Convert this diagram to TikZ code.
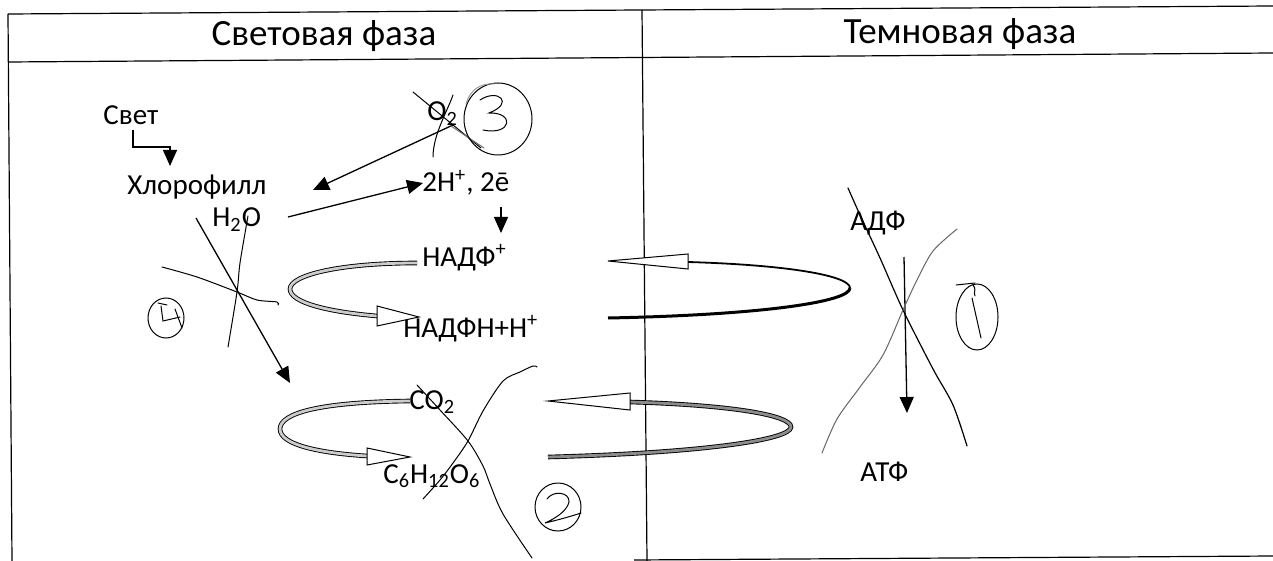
\documentclass[tikz,border=0pt]{standalone}
\usepackage{fontspec}
\setmainfont{Carlito}
\usetikzlibrary{arrows.meta}
\begin{document}
\begin{tikzpicture}[x=0.5pt,y=-0.5pt,
  lbl/.style={anchor=base west, inner sep=0pt, font=\fontsize{14.5}{16}\selectfont},
  ttl/.style={anchor=center, inner sep=0pt, font=\fontsize{18.5}{22}\selectfont},
  frame/.style={line width=0.6pt},
  arr/.style={line width=0.65pt, -{Triangle[length=8pt,width=7pt]}},
  hand/.style={line width=0.5pt, line cap=round},
  dshaft/.style={double=black!20, double distance=1.4pt, line width=0.45pt},
  ohead/.style={fill=white, line width=0.5pt, line join=miter}]
\useasboundingbox (0,0) rectangle (1273,561);
\fill[white] (0,0) rectangle (1273,561);
% frame
\coordinate (tl) at (8,14); \coordinate (tr) at (1273,6);
\coordinate (hl) at (8,62); \coordinate (hr) at (1273,53);
\coordinate (bl) at (12,561);
\coordinate (dt) at (642,10); \coordinate (db) at (647,561);
\coordinate (bm) at (634,560); \coordinate (br) at (1273,556);
\draw[frame] (tl) -- (tr);
\draw[frame] (hl) -- (hr);
\draw[frame] (tl) -- (bl);
\draw[frame] (dt) -- (db);
\draw[frame] (bm) -- (br);
% titles
\node[ttl] (t1) at (324,36) {Световая фаза};
\node[ttl] (t2) at (960,34) {Темновая фаза};
% labels
\node[lbl] (svet) at (103,125) {Свет};
\node[lbl] (chl) at (127,195) {Хлорофилл};
\node[lbl] (h2o) at (212,227) {H\textsubscript{2}O};
\node[lbl] (hpe) at (422,192) {2H\textsuperscript{+}, 2ē};
\node[lbl] (o2) at (427,121) {O\textsubscript{2}};
\node[lbl] (nadp) at (422,266) {НАДФ\textsuperscript{+}};
\node[lbl] (nadph) at (403,337) {НАДФН+Н\textsuperscript{+}};
\node[lbl] (co2) at (409,409) {CO\textsubscript{2}};
\node[lbl] (glc) at (383,483) {C\textsubscript{6}H\textsubscript{12}O\textsubscript{6}};
\node[lbl] (adp) at (850,231) {АДФ};
\node[lbl] (atp) at (860,481) {АТФ};
% black arrows
\coordinate (e1) at (133,130); \coordinate (e2) at (133,147);
\coordinate (e3) at (170,147); \coordinate (e4) at (170,166);
\draw[arr] (e1) -- (e2) -- (e3) -- (e4);
\coordinate (a1) at (288,217); \coordinate (a2) at (423,183);
\draw[arr] (a1) -- (a2);
\coordinate (b1) at (453,125); \coordinate (b2) at (313,190);
\draw[arr] (b1) -- (b2);
\coordinate (c1) at (501,207); \coordinate (c2) at (501,233);
\draw[arr] (c1) -- (c2);
\coordinate (d1) at (196,218); \coordinate (d2) at (290,383);
\draw[arr] (d1) -- (d2);
\coordinate (f1) at (904,257); \coordinate (f2) at (907,413);
\draw[arr] (f1) -- (f2);
% loop 1 (light phase, NADP)
\coordinate (L1s) at (417,263); \coordinate (L1m) at (290,289); \coordinate (L1e) at (377,316);
\draw[dshaft] (L1s) .. controls (340,263) and (290,275) .. (L1m) .. controls (290,303) and (330,312) .. (L1e);
\draw[ohead] (377,306) -- (419,317) -- (377,326) -- cycle;
% loop 2 (light phase, CO2)
\coordinate (L2s) at (410,401); \coordinate (L2m) at (280,429); \coordinate (L2e) at (367,456);
\draw[dshaft] (L2s) .. controls (320,402) and (280,413) .. (L2m) .. controls (280,445) and (320,453) .. (L2e);
\draw[ohead] (367,448) -- (410,457) -- (367,465) -- cycle;
% loop 3 (dark phase, top)
\coordinate (R1s) at (688,262); \coordinate (R1m) at (850,288); \coordinate (R1e) at (608,318);
\draw[line width=0.9pt] (R1s) .. controls (790,265) and (850,276) .. (R1m);
\draw[line width=1.5pt] (R1m) .. controls (850,302) and (760,315) .. (R1e);
\draw[ohead] (688,254) -- (608,261) -- (688,269) -- cycle;
% loop 4 (dark phase, bottom)
\coordinate (R2s) at (630,402); \coordinate (R2m) at (791,427); \coordinate (R2e) at (548,457);
\draw[dshaft, double=black!45] (R2s) .. controls (730,405) and (791,415) .. (R2m) .. controls (791,440) and (700,453) .. (R2e);
\draw[ohead] (630,393) -- (548,401) -- (630,410) -- cycle;
% hand marks: O2 strike and circle 3
\draw[hand] (413,92) -- (481,148);
\draw[hand, black!55] (451,126) -- (484,148);
\draw[hand] (453,95) .. controls (447,112) and (433,135) .. (433,157);
\draw[hand] (498,119) ellipse [x radius=34, y radius=36];
\draw[hand, black!40] (466,104) .. controls (470,90) and (480,83) .. (494,84);
\draw[hand] (480,100) .. controls (498,88) and (515,103) .. (489,113) .. controls (515,112) and (512,136) .. (483,130);
% cross 4
\draw[hand] plot[smooth] coordinates {(162,267) (197,277) (237,292) (257,300) (277,302) (278,305)};
\draw[hand] plot[smooth] coordinates {(248,216) (240,263) (237,292) (228,347)};
\draw[hand] (166,318) ellipse [x radius=18, y radius=20];
\draw[hand] (158,303) -- (167,305);
\draw[hand] (161,306) -- (163,321) -- (180,317);
\draw[hand] (175,309) -- (182,328);
% cross 2
\draw[hand] plot[smooth] coordinates {(417,385) (440,410) (468,441) (483,466) (490,484) (503,514) (532,558)};
\draw[hand] plot[smooth] coordinates {(537,367) (533,366) (520,372) (503,381) (483,411) (468,441) (453,463) (440,480) (423,499)};
\draw[hand] (558,507) ellipse [x radius=23, y radius=24];
\draw[hand] (547,499) .. controls (553,490) and (570,492) .. (569,502) .. controls (567,512) and (552,520) .. (545,523) .. controls (558,520) and (572,516) .. (581,513);
% cross 1
\draw[hand, line width=0.6pt] plot[smooth] coordinates {(848,188) (860,215) (880,258) (903,310) (933,369) (953,405) (967,446)};
\draw[hand, black!60] plot[smooth] coordinates {(957,229) (933,251) (917,280) (903,310) (883,355) (860,387) (837,419) (822,453)};
\draw[hand] (977,317) ellipse [x radius=21, y radius=33];
\draw[hand] (972,298) -- (981,338);
\draw[hand] (973,285) .. controls (977,289) and (973,292) .. (975,296);
\draw[hand] (956,285) -- (975,283);
\end{tikzpicture}
\end{document}
